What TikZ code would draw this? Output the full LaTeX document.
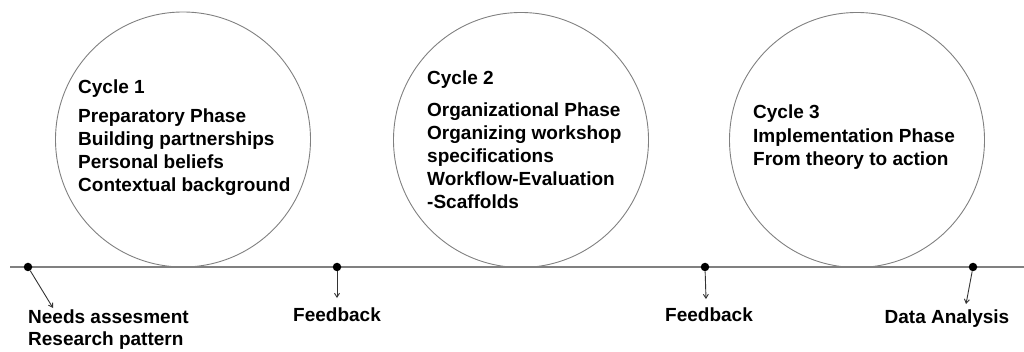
\documentclass[tikz,border=0pt]{standalone}
\usepackage{fontspec}
\setmainfont{Liberation Sans}
\usetikzlibrary{arrows.meta}
\begin{document}
\begin{tikzpicture}[x=1pt,y=-1pt,
  cyc/.style={circle, draw=black!50, line width=0.9pt, minimum size=255pt, inner sep=0pt},
  txt/.style={font=\bfseries\fontsize{19}{23}\selectfont, inner sep=0pt, align=left, anchor=north west, text=black},
  lbl/.style={font=\bfseries\fontsize{19}{22}\selectfont, inner sep=0pt, text=black},
  dotn/.style={circle, fill=black, minimum size=8.5pt, inner sep=0pt},
  arr/.style={black!80, line width=0.9pt, -{Straight Barb[length=4pt,width=5pt]}},
  axis/.style={black!50, line width=1.8pt}
]
\useasboundingbox (0,0) rectangle (1024,352);
% timeline
\coordinate (L) at (10,267);
\coordinate (R) at (1024,267);
\draw[axis] (L) -- (R);
% circles
\node[cyc] (c1) at (183,139.5) {};
\node[cyc] (c2) at (521,140) {};
\node[cyc] (c3) at (857,140) {};
% circle texts
\node[txt] (t1) at (78,80) {Cycle 1\\[6pt]Preparatory Phase\\Building partnerships\\Personal beliefs\\Contextual background};
\node[txt] (t2) at (427,71) {Cycle 2\\[9pt]Organizational Phase\\Organizing workshop\\specifications\\Workflow-Evaluation\\-Scaffolds};
\node[txt] (t3) at (753,105) {Cycle 3\\[1pt]Implementation Phase\\From theory to action};
% dots
\node[dotn] (d1) at (28,267) {};
\node[dotn] (d2) at (337,267) {};
\node[dotn] (d3) at (705,267) {};
\node[dotn] (d4) at (973,267) {};
% labels
\node[lbl, align=left, anchor=north west] (l1) at (28,310) {Needs assesment\\Research pattern};
\node[lbl, anchor=base] (l2) at (337,321) {Feedback};
\node[lbl, anchor=base] (l3) at (709,321) {Feedback};
\node[lbl, anchor=base] (l4) at (947,323) {Data Analysis};
% arrows
\draw[arr] (d1) -- ([xshift=25pt,yshift=2pt]l1.north west);
\draw[arr] (d2) -- ([yshift=9pt]l2.north);
\draw[arr] (d3) -- ([xshift=-3pt,yshift=8pt]l3.north);
\draw[arr] (d4) -- ([xshift=19pt,yshift=5pt]l4.north);
\end{tikzpicture}
\end{document}
